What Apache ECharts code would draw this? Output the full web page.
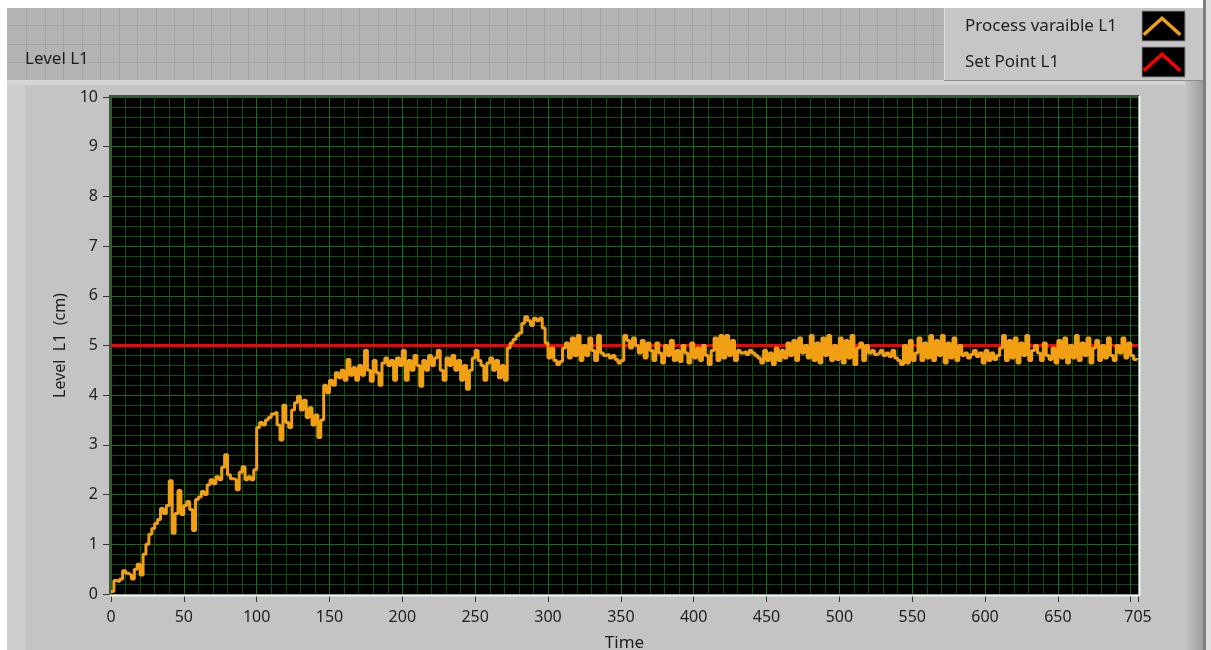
<!DOCTYPE html>
<html>
<head>
<meta charset="utf-8">
<script src="https://cdn.jsdelivr.net/npm/echarts@6/dist/echarts.min.js"></script>
<style>
html, body { margin: 0; padding: 0; background: #ffffff; }
#chart { width: 1211px; height: 650px; }
</style>
</head>
<body>
<div id="chart"></div>
<script>
// Tank level L1 logged every SAMPLE_STEP seconds, starting at t = 0
const SAMPLE_STEP = 2;
const levelL1 = [
  0.05, 0.27, 0.25, 0.3, 0.47, 0.42, 0.38, 0.3, 0.5, 0.6, 0.38,
  0.8, 1.0, 1.2, 1.32, 1.42, 1.5, 1.72, 1.62, 1.78, 2.28,
  1.22, 1.62, 2.08, 1.6, 1.78, 1.86, 1.7, 1.28, 1.9, 1.95,
  2.06, 2.0, 2.2, 2.3, 2.22, 2.36, 2.3, 2.55, 2.8, 2.4,
  2.32, 2.3, 2.1, 2.45, 2.56, 2.3, 2.36, 2.3, 2.5, 3.35,
  3.45, 3.4, 3.5, 3.55, 3.62, 3.66, 3.4, 3.1, 3.8, 3.45,
  3.35, 3.7, 3.85, 3.98, 3.7, 3.9, 3.55, 3.75, 3.4, 3.6,
  3.15, 3.5, 4.2, 4.05, 4.3, 4.2, 4.45, 4.35, 4.5, 4.3,
  4.72, 4.4, 4.55, 4.3, 4.6, 4.4, 4.9, 4.5, 4.28, 4.7,
  4.45, 4.2, 4.65, 4.75, 4.6, 4.7, 4.3, 4.75, 4.6, 4.9,
  4.3, 4.7, 4.5, 4.8, 4.6, 4.18, 4.7, 4.5, 4.8, 4.6,
  4.75, 4.9, 4.5, 4.3, 4.75, 4.6, 4.8, 4.5, 4.7, 4.3,
  4.6, 4.12, 4.5, 4.75, 4.9, 4.7, 4.6, 4.3, 4.65, 4.75,
  4.5, 4.7, 4.35, 4.6, 4.3, 4.95, 5.05, 5.12, 5.2, 5.25,
  5.45, 5.58, 5.5, 5.4, 5.55, 5.5, 5.55, 5.35, 5.05, 4.75,
  4.95, 4.7, 4.62, 4.68, 4.95, 5.05, 4.75, 5.15, 4.8, 5.2,
  4.7, 5.0, 4.8, 5.15, 4.9, 4.7, 5.2, 4.85, 4.8, 4.82,
  4.75, 4.8, 4.72, 4.65, 4.7, 5.2, 5.1, 4.95, 5.15, 5.0,
  4.85, 5.1, 4.75, 5.05, 4.9, 4.7, 5.05, 4.85, 4.65, 5.0,
  4.8, 5.1, 4.7, 4.9, 4.68, 5.0, 4.85, 4.65, 5.05, 4.75,
  4.95, 4.7, 5.0, 4.8, 4.62, 4.9, 5.15, 4.7, 5.2, 4.75,
  5.2, 4.8, 5.1, 4.7, 4.9, 4.85, 4.88, 4.82, 4.9, 4.85,
  4.8, 4.75, 4.65, 4.9, 4.7, 4.85, 4.62, 4.95, 4.7, 4.9,
  4.75, 5.05, 4.8, 5.1, 4.7, 5.15, 4.85, 5.0, 4.75, 5.2,
  4.7, 5.05, 4.65, 5.15, 4.8, 5.2, 4.7, 5.0, 4.72, 5.15,
  4.65, 5.1, 4.75, 5.2, 4.62, 4.95, 5.05, 4.7, 5.0, 4.85,
  4.9, 4.82, 4.85, 4.9, 4.8, 4.85, 4.78, 4.9, 4.75, 4.7,
  4.62, 5.0, 4.65, 5.1, 4.7, 4.85, 5.15, 4.7, 5.05, 4.75,
  5.2, 4.7, 5.1, 4.8, 5.2, 4.65, 5.05, 4.75, 5.15, 4.7,
  5.0, 4.8, 4.85, 4.75, 4.82, 4.9, 4.78, 4.85, 4.65, 4.9,
  4.7, 4.85, 4.72, 4.8, 4.95, 5.2, 4.7, 5.1, 4.75, 5.15,
  4.65, 5.05, 4.8, 5.2, 4.7, 4.9, 5.0, 4.85, 4.7, 5.05,
  4.8, 4.72, 4.95, 4.65, 5.1, 4.75, 5.15, 4.65, 5.0, 4.75,
  5.2, 4.7, 5.05, 4.8, 5.15, 4.65, 4.95, 5.1, 4.7, 5.0,
  4.75, 5.15, 4.8, 4.7, 5.0, 4.85, 5.15, 4.75, 5.05, 4.8, 4.72, 4.75
];
// Set point for L1 (cm), held constant over the run
const setPointTimes = [0, 705];
const setPointL1 = [5, 5];

// Axis ranges
const timeMax = 705;
const timeTickStep = 50;
const levelMax = 10;
const levelTickStep = 1;

const seriesNames = ['Process varaible L1', 'Set Point L1'];
const FONT = '"Noto Sans", "DejaVu Sans", sans-serif';
const TEXT = '#1e1e1e';
const GRID_MAJOR = '#0d7410';
const GRID_MINOR = '#0a520c';

const processData = levelL1.map((v, i) => [i * SAMPLE_STEP, v]);
const setPointData = setPointTimes.map((t, i) => [t, setPointL1[i]]);

// front-panel decoration: header grid pattern behind the graph label
const panelGrid = [];
for (let x = 26; x < 944; x += 18.5) {
  panelGrid.push({ type: 'line', z: -19, shape: { x1: Math.round(x) + 0.5, y1: 8, x2: Math.round(x) + 0.5, y2: 80 },
    style: { stroke: '#a3a3a3', lineWidth: 1 } });
}
[25, 43.5, 62].forEach(y => {
  panelGrid.push({ type: 'line', z: -19, shape: { x1: 7, y1: Math.round(y) + 0.5, x2: 944, y2: Math.round(y) + 0.5 },
    style: { stroke: '#a3a3a3', lineWidth: 1 } });
});

const chart = echarts.init(document.getElementById('chart'), null, { renderer: 'canvas' });

chart.setOption({
  animation: false,
  backgroundColor: '#ffffff',
  textStyle: { fontFamily: FONT },
  title: {
    text: 'Level L1',
    left: 20, top: 46,
    textStyle: { fontFamily: FONT, fontSize: 17, fontWeight: 'normal', color: TEXT }
  },
  legend: {
    data: seriesNames,
    orient: 'vertical',
    left: 965, top: 16,
    padding: 0,
    align: 'right',
    itemWidth: 40, itemHeight: 20, itemGap: 16,
    selectedMode: false,
    icon: 'path://M0,18 L20,0 L40,18 L37.5,20.5 L20,4.5 L2.5,20.5 Z',
    formatter: name => '{n|' + name + '}',
    textStyle: {
      fontFamily: FONT, fontSize: 17, color: TEXT,
      rich: { n: { width: 172, align: 'left', fontFamily: FONT, fontSize: 17, color: TEXT } }
    }
  },
  graphic: {
    elements: [
      // header strip
      { type: 'rect', z: -20, shape: { x: 7, y: 8, width: 1200, height: 74 }, style: { fill: '#b4b4b4' } },
      ...panelGrid,
      // graph body
      { type: 'rect', z: -18, shape: { x: 7, y: 80, width: 1198, height: 570 }, style: { fill: '#c4c4c4' } },
      { type: 'rect', z: -17, shape: { x: 7, y: 80, width: 1198, height: 5 }, style: { fill: '#d6d6d6' } },
      { type: 'rect', z: -17, shape: { x: 7, y: 85, width: 18, height: 565 }, style: { fill: '#cfcfcf' } },
      { type: 'rect', z: -17, shape: { x: 1185, y: 80, width: 18, height: 570 },
        style: { fill: new echarts.graphic.LinearGradient(0, 0, 1, 0, [
          { offset: 0, color: '#c4c4c4' }, { offset: 1, color: '#9c9c9c' }]) } },
      { type: 'rect', z: -17, shape: { x: 1203, y: 0, width: 3, height: 650 }, style: { fill: '#7e7e7e' } },
      { type: 'rect', z: -17, shape: { x: 1206, y: 0, width: 5, height: 650 }, style: { fill: '#dedede' } },
      // legend panel
      { type: 'rect', z: -16, shape: { x: 944, y: 8, width: 259, height: 72 }, style: { fill: '#c6c6c6' } },
      { type: 'line', z: -15, shape: { x1: 944.5, y1: 8, x2: 944.5, y2: 80 }, style: { stroke: '#dcdcdc', lineWidth: 1 } },
      { type: 'line', z: -15, shape: { x1: 944, y1: 80.5, x2: 1203, y2: 80.5 }, style: { stroke: '#8c8c8c', lineWidth: 1 } },
      { type: 'rect', z: -15, shape: { x: 1142, y: 11, width: 43, height: 30 }, style: { fill: '#000', stroke: '#8a8a8a', lineWidth: 1 } },
      { type: 'rect', z: -15, shape: { x: 1142, y: 47, width: 43, height: 30 }, style: { fill: '#000', stroke: '#8a8a8a', lineWidth: 1 } },
      // plot frame bevel
      { type: 'polyline', z: 20, shape: { points: [[110, 595], [110, 96], [1139, 96]] }, style: { stroke: '#4a4a4a', lineWidth: 2, fill: null } },
      { type: 'polyline', z: 20, shape: { points: [[110, 595.5], [1139.5, 595.5], [1139.5, 96]] }, style: { stroke: '#f4f4f4', lineWidth: 2, fill: null } }
    ]
  },
  grid: {
    left: 111, right: 73, top: 97, bottom: 56,
    show: true, backgroundColor: '#000000', borderWidth: 0,
    containLabel: false,
    outerBoundsMode: 'none'
  },
  xAxis: {
    type: 'value',
    min: 0, max: timeMax, interval: timeTickStep,
    offset: 3,
    name: 'Time',
    nameLocation: 'middle',
    nameGap: 38,
    nameTextStyle: { fontFamily: FONT, fontSize: 17, color: TEXT },
    axisLine: { show: false },
    axisTick: { show: true, length: 8, lineStyle: { color: '#333', width: 1 } },
    axisLabel: {
      margin: 12, fontFamily: FONT, fontSize: 16, color: TEXT,
      showMaxLabel: true, showMinLabel: true,
      formatter: v => (v === 700 ? '' : String(v))
    },
    splitLine: { show: true, lineStyle: { color: GRID_MAJOR, width: 1, opacity: 1 } },
    minorTick: { show: false, splitNumber: 5 },
    minorSplitLine: { show: true, lineStyle: { color: GRID_MINOR, width: 1, opacity: 1 } }
  },
  yAxis: {
    type: 'value',
    min: 0, max: levelMax, interval: levelTickStep,
    offset: 2,
    name: 'Level  L1  (cm)',
    nameLocation: 'middle',
    nameGap: 38,
    nameTextStyle: { fontFamily: FONT, fontSize: 16, color: TEXT },
    axisLine: { show: false },
    axisTick: { show: true, length: 8, lineStyle: { color: '#333', width: 1 } },
    axisLabel: { margin: 11, fontFamily: FONT, fontSize: 16, color: TEXT },
    splitLine: { show: true, lineStyle: { color: GRID_MAJOR, width: 1, opacity: 1 } },
    minorTick: { show: false, splitNumber: 5 },
    minorSplitLine: { show: true, lineStyle: { color: GRID_MINOR, width: 1, opacity: 1 } }
  },
  series: [
    {
      name: seriesNames[0],
      type: 'line',
      data: processData,
      step: 'end',
      showSymbol: false,
      z: 4,
      color: '#f2a013',
      lineStyle: { color: '#f2a013', width: 3 },
      itemStyle: { color: '#f2a013' }
    },
    {
      name: seriesNames[1],
      type: 'line',
      data: setPointData,
      showSymbol: false,
      z: 3,
      color: '#ff0000',
      lineStyle: { color: '#ff0000', width: 3 },
      itemStyle: { color: '#ff0000' }
    }
  ]
});
</script>
</body>
</html>
